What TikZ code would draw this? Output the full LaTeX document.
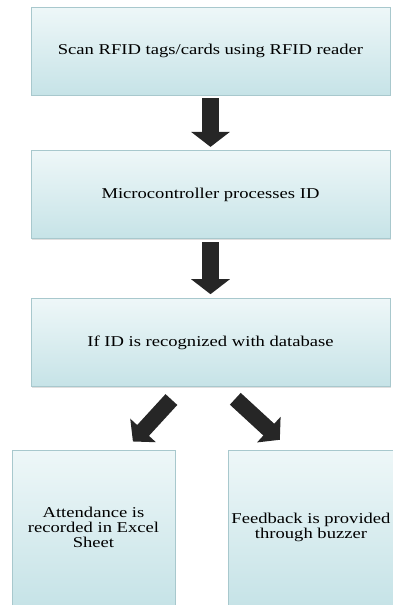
\documentclass[tikz,border=0pt]{standalone}
\usepackage{fontspec}
\setmainfont{Liberation Serif}[FakeStretch=1.24]
\usetikzlibrary{arrows.meta,positioning,shadows}
\definecolor{boxtop}{HTML}{EEF7F8}
\definecolor{boxbot}{HTML}{C6E3E7}
\definecolor{boxline}{HTML}{A8C8CD}
\definecolor{ink}{HTML}{262626}

\begin{document}
\begin{tikzpicture}[x=1pt,y=-1pt,font=\fontsize{15}{15}\selectfont,
  b/.style={draw=boxline,line width=0.8pt,top color=boxtop,bottom color=boxbot,align=center,
    minimum width=359pt,minimum height=88pt,inner sep=3pt,
    drop shadow={shadow xshift=1pt,shadow yshift=-1.2pt,opacity=0.25}},
  arr/.style={ink,line width=17pt,-{Triangle[length=15pt,width=38pt]}},
  darr/.style={ink,line width=16pt,-{Triangle[length=15pt,width=34pt]}}]
\useasboundingbox (0,0) rectangle (393,605);
\clip (0,0) rectangle (393,605);
\node[b] (scan) at (210.5,51) {Scan RFID tags/cards using RFID reader};
\node[b,below=55pt of scan] (proc) {Microcontroller processes ID};
\node[b,below=59pt of proc] (cond) {If ID is recognized with database};
\node[b,minimum width=163pt,minimum height=155pt] (att) at (93.5,527.5) {Attendance is\\recorded in Excel\\Sheet};
\node[b,minimum width=166pt,minimum height=155pt] (buzz) at (311,527.5) {Feedback is provided\\through buzzer};
\draw[arr,shorten <=3pt,shorten >=3.5pt] (scan) -- (proc);
\draw[arr,shorten <=3pt,shorten >=4pt] (proc) -- (cond);
\draw[darr,shorten <=17pt,shorten >=11pt] ([xshift=-27.6pt]cond.south) -- ([xshift=32pt]att.north);
\draw[darr,shorten <=17.4pt,shorten >=14.5pt] ([xshift=12pt]cond.south) -- ([xshift=-20.5pt]buzz.north);
\end{tikzpicture}
\end{document}
